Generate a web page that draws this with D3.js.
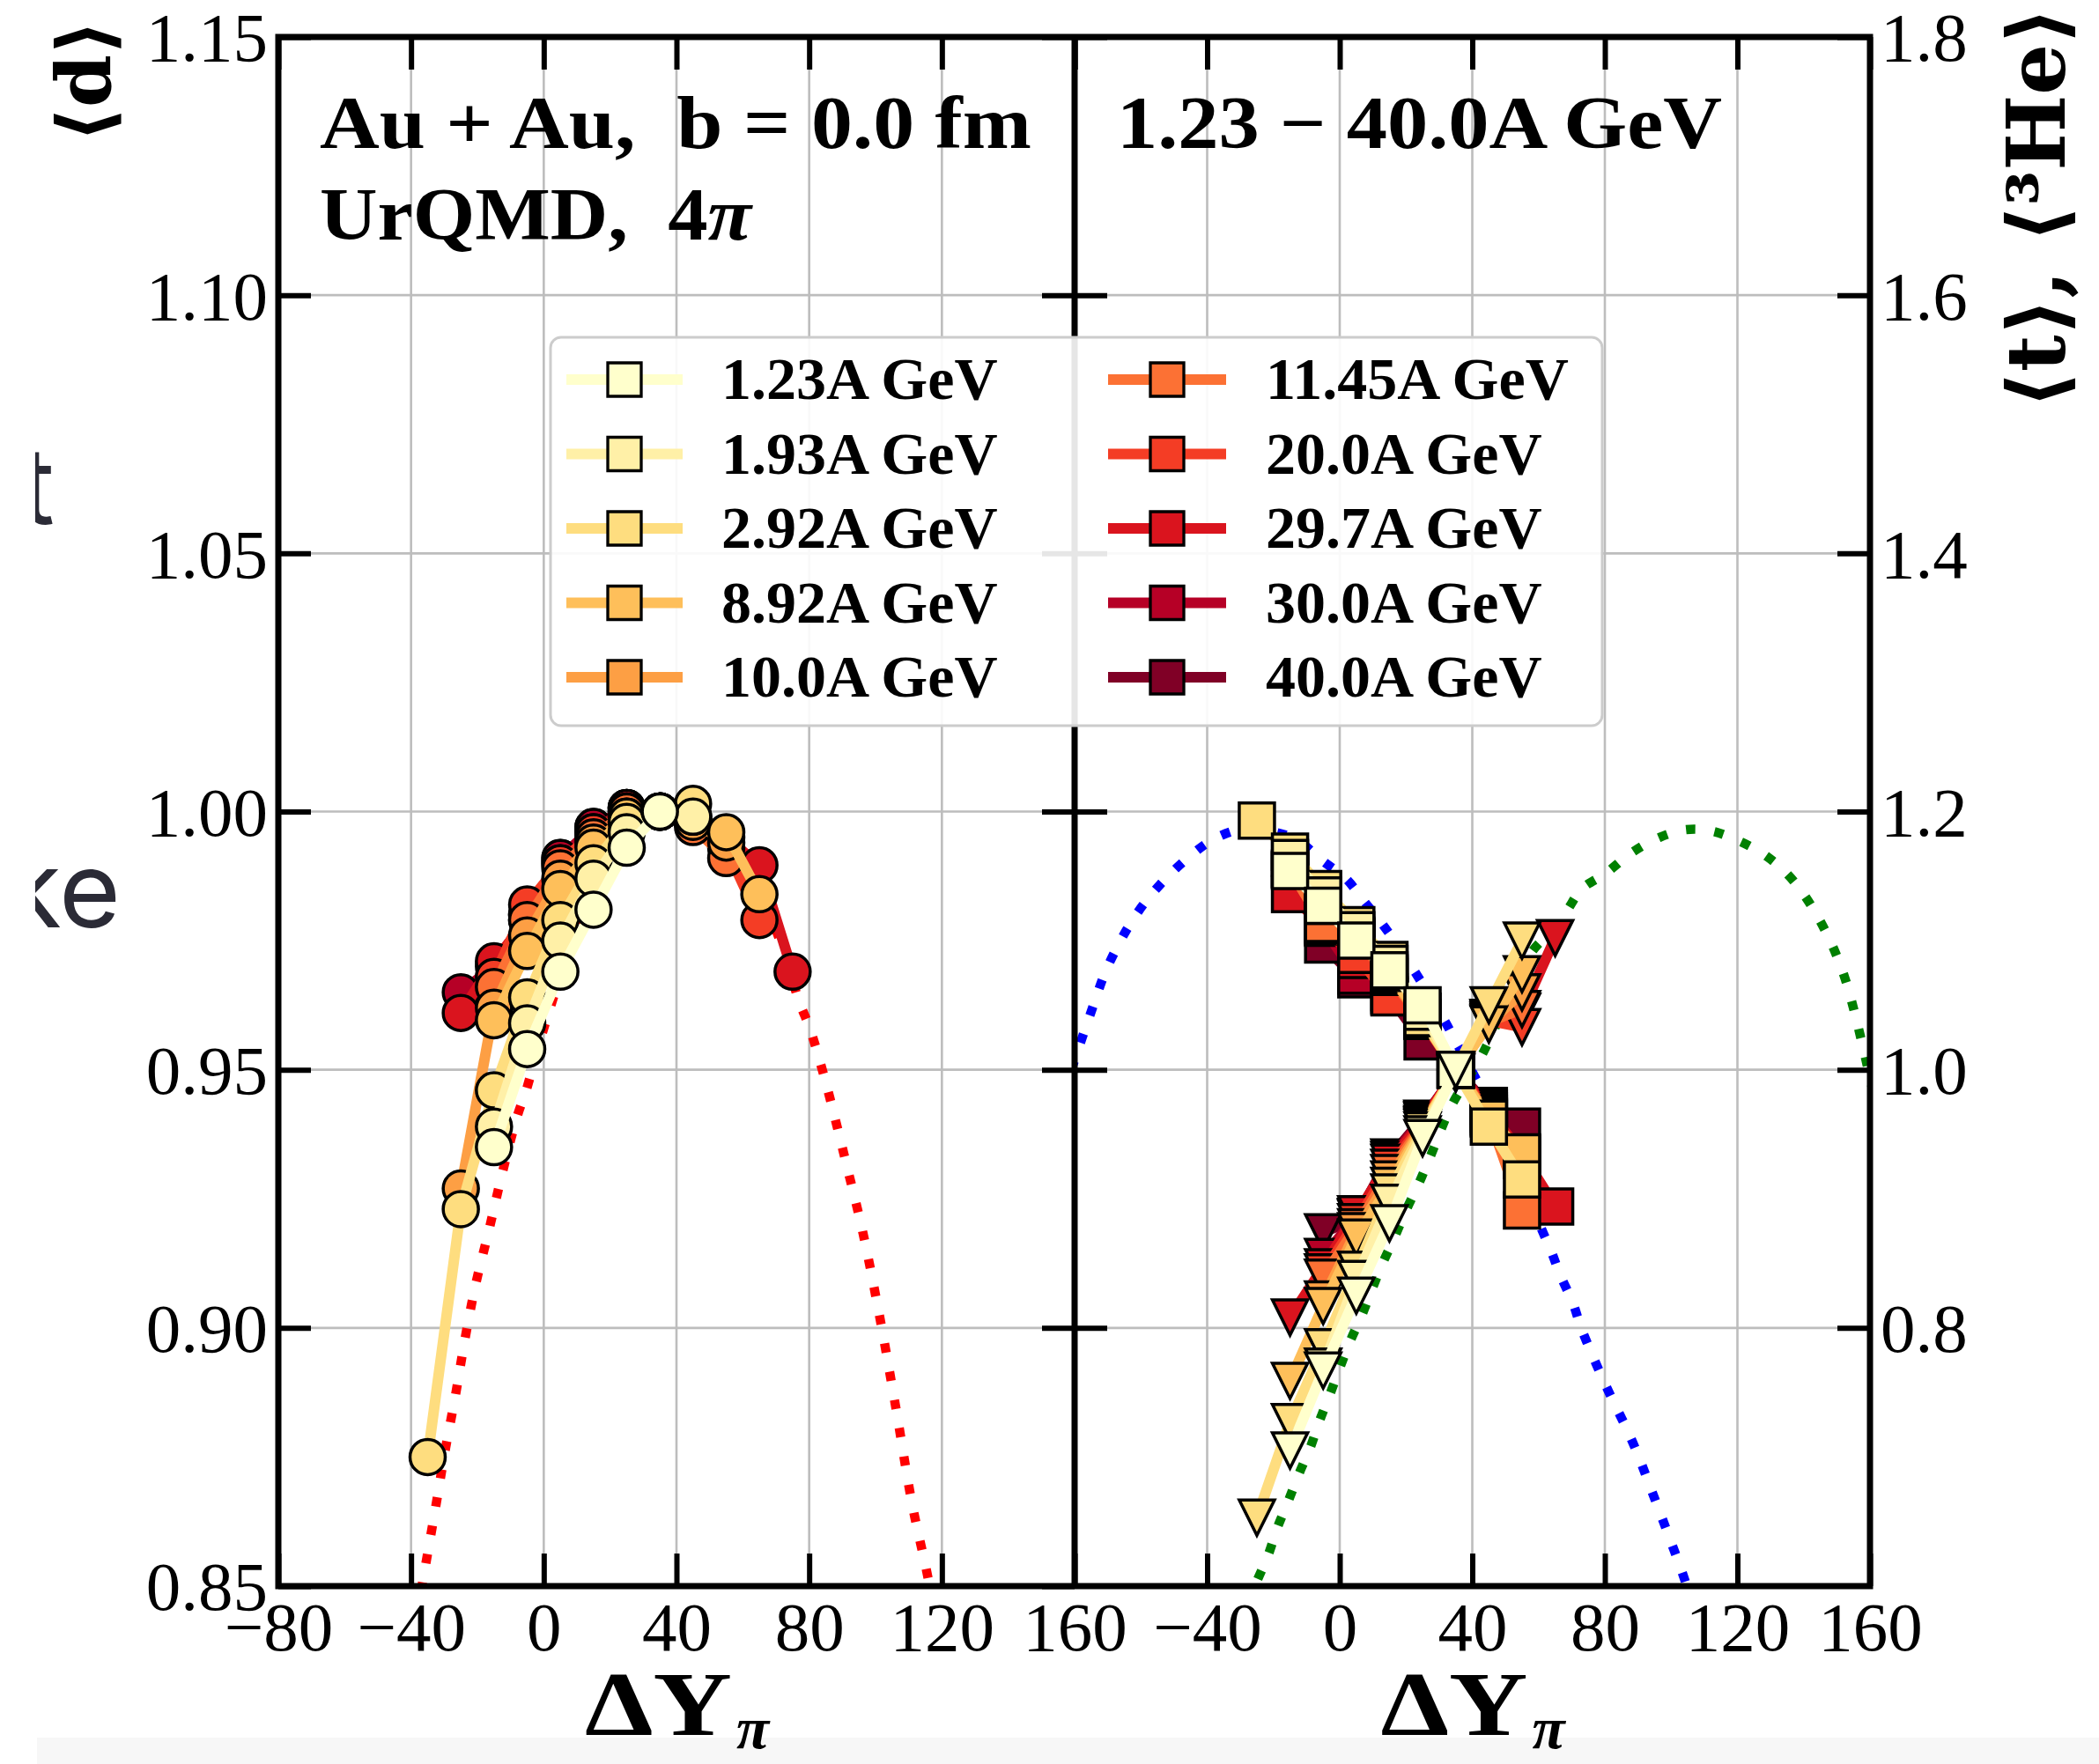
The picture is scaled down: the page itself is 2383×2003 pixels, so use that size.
<!DOCTYPE html>
<html><head><meta charset="utf-8">
<script src="https://cdn.jsdelivr.net/npm/d3@7"></script>
<style>body{margin:0;background:#fff}text{white-space:pre}</style>
</head><body>
<svg id="chart" width="2383" height="2003" xmlns="http://www.w3.org/2000/svg"></svg>
<script>
// ---------------- DATA ----------------
const energies = ["1.23A GeV","1.93A GeV","2.92A GeV","8.92A GeV","10.0A GeV","11.45A GeV","20.0A GeV","29.7A GeV","30.0A GeV","40.0A GeV"];
const colors = ["#ffffcc","#fff0a7","#fedd7f","#febf5a","#fd9f44","#fc7134","#f43d25","#da141e","#b60026","#800026"];

const xTicks = [-80,-40,0,40,80,120,160];
const yLeftTicks = [0.85,0.90,0.95,1.00,1.05,1.10,1.15];
const yRightTicks = [0.8,1.0,1.2,1.4,1.6,1.8];

// <d> vs DeltaY_pi (left panel, circles)
const dX = [
  [-15,-5,5,15,25,35],
  [-15,-5,5,15,25,35,45],
  [-35,-25,-15,-5,5,15,25,35,45],
  [-15,-5,5,15,25,35,45,55,65],
  [-25,-15,-5,5,15,25,35,45,55],
  [-15,-5,5,15,25,35,45,55],
  [-15,-5,5,15,25,35,45,55,65],
  [-25,-15,-5,5,15,25,35,45,55,65,75],
  [-25,-15,-5,5,15,25,35,45],
  [-15,-5,5,15,25,35]
];
const dY = [
  [0.935,0.954,0.969,0.981,0.993,1.000],
  [0.939,0.959,0.975,0.987,0.996,1.000,0.999],
  [0.875,0.923,0.946,0.964,0.979,0.990,0.998,1.000,1.0015],
  [0.9596,0.973,0.985,0.993,0.999,1.000,0.999,0.996,0.984],
  [0.927,0.962,0.976,0.987,0.994,0.999,1.000,0.998,0.994],
  [0.966,0.979,0.989,0.995,1.000,1.000,0.997,0.991],
  [0.968,0.982,0.990,0.996,1.000,1.000,0.998,0.993,0.979],
  [0.961,0.971,0.979,0.990,0.996,1.0007,1.000,0.999,0.995,0.9896,0.969],
  [0.965,0.970,0.980,0.991,0.997,1.0007,1.000,0.998],
  [0.965,0.980,0.991,0.997,1.0007,1.000]
];

// <t> (squares, right panel)
const tX = [
  [-15,-5,5,15,25,35],
  [-15,-5,5,15,25,35],
  [-25,-15,-5,5,15,25,35,45,55],
  [-15,-5,5,15,25,35,45,55],
  [-15,-5,5,15,25,35,45,55],
  [-15,-5,5,15,25,35,45,55],
  [-5,5,15,25,35,45,55],
  [-15,-5,5,15,25,35,45,55,65],
  [-5,5,15,25,35,45],
  [-5,5,15,25,35,45,55]
];
const tY = [
  [1.154,1.127,1.100,1.077,1.050,1.000],
  [1.164,1.135,1.108,1.082,1.045,1.000],
  [1.193,1.169,1.140,1.112,1.085,1.040,1.000,0.956,0.915],
  [1.156,1.128,1.104,1.075,1.040,1.000,0.962,0.936],
  [1.155,1.127,1.103,1.074,1.039,1.000,0.963,0.930],
  [1.155,1.113,1.102,1.072,1.039,1.000,0.964,0.891],
  [1.112,1.089,1.056,1.038,1.000,0.966,0.933],
  [1.136,1.111,1.085,1.060,1.038,1.000,0.968,0.935,0.894],
  [1.110,1.073,1.058,1.038,1.000,0.970],
  [1.097,1.070,1.057,1.022,1.000,0.972,0.956]
];

// <3He> (down triangles, right panel)
const heX = [
  [-15,-5,5,15,25,35],
  [-5,5,15,25,35],
  [-25,-15,-5,5,15,25,35,45,55],
  [-15,-5,5,15,25,35,45,55],
  [-5,5,15,25,35,45,55],
  [-5,5,15,25,35,45,55],
  [-5,5,15,25,35,45,55],
  [-15,-5,5,15,25,35,45,55,65],
  [-5,5,15,25,35,45],
  [-5,5,15,25,35,45]
];
const heY = [
  [0.705,0.767,0.825,0.881,0.947,1.000],
  [0.770,0.838,0.897,0.950,1.000],
  [0.653,0.727,0.785,0.845,0.905,0.953,1.000,1.050,1.100],
  [0.759,0.817,0.870,0.910,0.955,0.999,1.035,1.074],
  [0.822,0.875,0.915,0.956,0.999,1.036,1.060],
  [0.839,0.878,0.920,0.957,0.998,1.037,1.047],
  [0.843,0.882,0.924,0.958,0.998,1.038,1.033],
  [0.808,0.847,0.888,0.928,0.960,0.998,1.039,1.045,1.102],
  [0.855,0.886,0.930,0.961,0.998,1.040],
  [0.874,0.885,0.932,0.962,0.997,1.040]
];

// dotted reference curves
const redX = [-37,-32.4,-29.8,-26.6,-23.7,-20.5,-16.5,-12.5,-8,-5.3,0,10,20,30,40,50,60,70,77.1,80.2,84.8,88.8,91.1,96,101,106,111,116,118];
const redY = [0.849,0.866,0.876,0.887,0.898,0.9085,0.919,0.930,0.941,0.946,0.958,0.977,0.990,0.997,1.000,0.997,0.990,0.977,0.963,0.958,0.948,0.938,0.932,0.919,0.903,0.885,0.866,0.851,0.843];
const blueX = [-81,-75,-70,-62,-54,-44,-37,-28,-19.5,-12.8,-5.3,1.9,7.2,12.5,17.3,22.4,31.2,35.2,42.7,51.8,60.5,63.7,66.7,70.4,73,80,88.3,95,103,105];
const blueY = [1.000,1.045,1.080,1.118,1.144,1.168,1.180,1.187,1.184,1.178,1.162,1.148,1.131,1.114,1.097,1.077,1.040,1.021,0.985,0.936,0.879,0.860,0.840,0.819,0.799,0.757,0.712,0.668,0.613,0.598];
const greenX = [-28,-24.8,-21.6,-18.7,-15.5,-12.3,-8.8,-6.1,-2.9,0,3.2,6.7,9.9,13.1,16.5,20,23.7,27.2,33.9,42.4,50,57.9,64,68.5,73,80.2,88,96.5,104.5,112,120.7,129,137,145,152.3,161];
const greenY = [0.585,0.605,0.624,0.646,0.666,0.687,0.708,0.728,0.749,0.769,0.790,0.810,0.831,0.851,0.870,0.891,0.911,0.932,0.973,1.009,1.050,1.091,1.108,1.123,1.140,1.152,1.168,1.180,1.186,1.185,1.177,1.165,1.146,1.115,1.072,0.982];

// ---------------- DRAW ----------------
const W = 2383, H = 2003;
const yTop = 42, yBot = 1801, lx0 = 316, mid = 1220, rx1 = 2123;
const xL = d3.scaleLinear().domain([-80,160]).range([lx0, mid]);
const xR = d3.scaleLinear().domain([-80,160]).range([mid, rx1]);
const yL = d3.scaleLinear().domain([0.85,1.15]).range([yBot, yTop]);
const yR = d3.scaleLinear().domain([0.6,1.8]).range([yBot, yTop]);

const svg = d3.select("#chart");
svg.append("rect").attr("width", W).attr("height", H).attr("fill", "#fff");
const defs = svg.append("defs");
defs.append("clipPath").attr("id","clipL").append("rect").attr("x",lx0).attr("y",yTop).attr("width",mid-lx0).attr("height",yBot-yTop);
defs.append("clipPath").attr("id","clipR").append("rect").attr("x",mid).attr("y",yTop).attr("width",rx1-mid).attr("height",yBot-yTop);
defs.append("clipPath").attr("id","clipArt").append("rect").attr("x",40).attr("y",0).attr("width",300).attr("height",H);

// background artefacts of the source picture
svg.append("rect").attr("x",42).attr("y",1973).attr("width",W-42).attr("height",30).attr("fill","#f7f7f7");
const art = svg.append("g").attr("clip-path","url(#clipArt)")
  .attr("font-family","Inter, 'Open Sans', sans-serif").attr("font-size",120).attr("fill","#2b2b36");
art.append("text").attr("x",62).attr("y",595).attr("text-anchor","end").text("t");
art.append("text").attr("x",137).attr("y",1053).attr("text-anchor","end").text("ke");

// grid
const grid = svg.append("g").attr("stroke","#bdbdbd").attr("stroke-width",2.6);
[[xL,yL,yLeftTicks],[xR,yR,yRightTicks]].forEach(([xs,ys,yt]) => {
  xTicks.filter(v => v > -80 && v < 160).forEach(v =>
    grid.append("line").attr("x1",xs(v)).attr("x2",xs(v)).attr("y1",yTop).attr("y2",yBot));
  yt.forEach(v => { const y = ys(v); if (y > yTop + 1 && y < yBot - 1)
    grid.append("line").attr("x1",xs(-80)).attr("x2",xs(160)).attr("y1",y).attr("y2",y); });
});

// dotted curves
function curve(g, xs, ys, X, Y, color){
  const line = d3.line().x(d => xs(d[0])).y(d => ys(d[1])).curve(d3.curveCatmullRom.alpha(0.5));
  g.append("path").attr("d", line(X.map((x,i) => [x, Y[i]])))
    .attr("fill","none").attr("stroke",color).attr("stroke-width",10.5)
    .attr("stroke-dasharray","10.5 22");
}
const gL = svg.append("g").attr("clip-path","url(#clipL)");
const gR = svg.append("g").attr("clip-path","url(#clipR)");
curve(gL, xL, yL, redX, redY, "#ff0000");
curve(gR, xR, yR, blueX, blueY, "#0000ff");
curve(gR, xR, yR, greenX, greenY, "#008000");

// series (highest energy first so that 1.23A GeV ends on top)
const MS = 20, SW = 3.5, LW = 12;
function seriesLine(g, xs, ys, X, Y, color){
  const line = d3.line().x(d => xs(d[0])).y(d => ys(d[1]));
  g.append("path").attr("d", line(X.map((x,i) => [x, Y[i]])))
    .attr("fill","none").attr("stroke",color).attr("stroke-width",LW).attr("stroke-linejoin","round");
}
const sq = `M${-MS},${-MS}H${MS}V${MS}H${-MS}Z`;
const tri = `M${-MS},${-MS}H${MS}L0,${MS}Z`;
const dataG = svg.append("g");
for (let i = energies.length - 1; i >= 0; i--) {
  const c = colors[i];
  seriesLine(dataG, xL, yL, dX[i], dY[i], c);
  dataG.selectAll(null).data(dX[i].map((x,k) => [x, dY[i][k]])).enter().append("circle")
    .attr("cx", d => xL(d[0])).attr("cy", d => yL(d[1])).attr("r", MS)
    .attr("fill", c).attr("stroke","#000").attr("stroke-width",SW);
  seriesLine(dataG, xR, yR, tX[i], tY[i], c);
  dataG.selectAll(null).data(tX[i].map((x,k) => [x, tY[i][k]])).enter().append("path")
    .attr("d", sq).attr("transform", d => `translate(${xR(d[0])},${yR(d[1])})`)
    .attr("fill", c).attr("stroke","#000").attr("stroke-width",SW);
  seriesLine(dataG, xR, yR, heX[i], heY[i], c);
  dataG.selectAll(null).data(heX[i].map((x,k) => [x, heY[i][k]])).enter().append("path")
    .attr("d", tri).attr("transform", d => `translate(${xR(d[0])},${yR(d[1])})`)
    .attr("fill", c).attr("stroke","#000").attr("stroke-width",SW).attr("stroke-linejoin","miter");
}

// frame
svg.append("rect").attr("x",lx0).attr("y",yTop).attr("width",rx1-lx0).attr("height",yBot-yTop)
  .attr("fill","none").attr("stroke","#000").attr("stroke-width",7);
svg.append("line").attr("x1",mid).attr("x2",mid).attr("y1",yTop).attr("y2",yBot)
  .attr("stroke","#000").attr("stroke-width",7);

// axes / ticks
const TL = 37, FS = 79, TF = "'Liberation Serif', 'Times New Roman', serif";
function styleAxis(g){
  g.select(".domain").remove();
  g.selectAll(".tick line").attr("stroke","#000").attr("stroke-width",6);
  g.selectAll(".tick text").attr("font-family",TF).attr("font-size",FS).attr("fill","#000");
}
const fmtX = d3.format("d");
svg.append("g").attr("transform",`translate(0,${yBot})`)
  .call(d3.axisBottom(xL).tickValues(xTicks).tickSize(-TL).tickPadding(17).tickFormat(fmtX)).call(styleAxis);
svg.append("g").attr("transform",`translate(0,${yTop})`)
  .call(d3.axisTop(xL).tickValues(xTicks).tickSize(-TL).tickFormat("")).call(styleAxis);
svg.append("g").attr("transform",`translate(0,${yBot})`)
  .call(d3.axisBottom(xR).tickValues(xTicks.filter(v => v > -80)).tickSize(-TL).tickPadding(17).tickFormat(fmtX)).call(styleAxis);
svg.append("g").attr("transform",`translate(0,${yTop})`)
  .call(d3.axisTop(xR).tickValues(xTicks).tickSize(-TL).tickFormat("")).call(styleAxis);
svg.append("g").attr("transform",`translate(${lx0},0)`)
  .call(d3.axisLeft(yL).tickValues(yLeftTicks).tickSize(-TL).tickPadding(12).tickFormat(d3.format(".2f"))).call(styleAxis)
  .selectAll(".tick text").attr("dy","0.34em");
svg.append("g").attr("transform",`translate(${mid},0)`)
  .call(d3.axisRight(yL).tickValues(yLeftTicks).tickSize(-TL).tickFormat("")).call(styleAxis);
svg.append("g").attr("transform",`translate(${mid},0)`)
  .call(d3.axisLeft(yR).tickValues(yRightTicks).tickSize(-TL).tickFormat("")).call(styleAxis);
svg.append("g").attr("transform",`translate(${rx1},0)`)
  .call(d3.axisRight(yR).tickValues(yRightTicks).tickSize(-TL).tickPadding(12).tickFormat(d3.format(".1f"))).call(styleAxis)
  .selectAll(".tick text").attr("dy","0.34em");

// axis titles
const SB = "'Liberation Serif', serif";
const BF = "'DejaVu Serif', serif";
[xL, xR].forEach(xs => {
  const c = (xs.range()[0] + xs.range()[1]) / 2;
  svg.append("text").attr("x", c - 104).attr("y", 1970).attr("textLength", 167).attr("lengthAdjust","spacingAndGlyphs")
    .attr("font-family",SB).attr("font-weight","bold").attr("font-size",103).attr("fill","#000").text("ΔY");
  svg.append("text").attr("x", c + 68).attr("y", 1985)
    .attr("font-family",SB).attr("font-weight","bold").attr("font-style","italic").attr("font-size",68).attr("fill","#000").text("π");
});
svg.append("text").attr("transform","translate(126,92) rotate(-90)").attr("text-anchor","middle")
  .attr("font-family",BF).attr("font-weight","bold").attr("font-size",86).attr("fill","#000").text("⟨d⟩");
svg.append("text").attr("transform","translate(2344,236) rotate(-90)").attr("text-anchor","middle")
  .attr("font-family",BF).attr("font-weight","bold").attr("font-size",91).attr("fill","#000").text("⟨t⟩, ⟨³He⟩");

// annotations
const ann = svg.append("g").attr("font-family",SB).attr("font-weight","bold").attr("font-size",84).attr("fill","#000");
ann.append("text").attr("x",363).attr("y",168).attr("textLength",808).attr("lengthAdjust","spacingAndGlyphs").text("Au + Au,  b = 0.0 fm");
const a2 = ann.append("text").attr("x",363).attr("y",272).attr("textLength",490).attr("lengthAdjust","spacingAndGlyphs");
a2.append("tspan").text("UrQMD,  4");
a2.append("tspan").attr("font-style","italic").text("π");
ann.append("text").attr("x",1268).attr("y",168).attr("textLength",687).attr("lengthAdjust","spacingAndGlyphs").text("1.23 − 40.0A GeV");

// legend
const lg = svg.append("g");
lg.append("rect").attr("x",625).attr("y",383).attr("width",1194).attr("height",441).attr("rx",12)
  .attr("fill","#fff").attr("fill-opacity",0.9).attr("stroke","#cccccc").attr("stroke-width",3);
energies.forEach((e, i) => {
  const col = i < 5 ? 0 : 1, row = i % 5;
  const cy = 431 + row * 84.5;
  const lx = [643,1258][col], rx = [775,1392][col], mx = [709,1325][col], tx = [819,1437][col];
  lg.append("line").attr("x1",lx).attr("x2",rx).attr("y1",cy).attr("y2",cy).attr("stroke",colors[i]).attr("stroke-width",LW);
  lg.append("path").attr("d",sq).attr("transform",`translate(${mx},${cy}) scale(0.95)`)
    .attr("fill",colors[i]).attr("stroke","#000").attr("stroke-width",SW);
  lg.append("text").attr("x",tx).attr("y",cy+22).attr("font-family",SB).attr("font-weight","bold")
    .attr("font-size",68).attr("fill","#000").text(e);
});
</script>
</body></html>
